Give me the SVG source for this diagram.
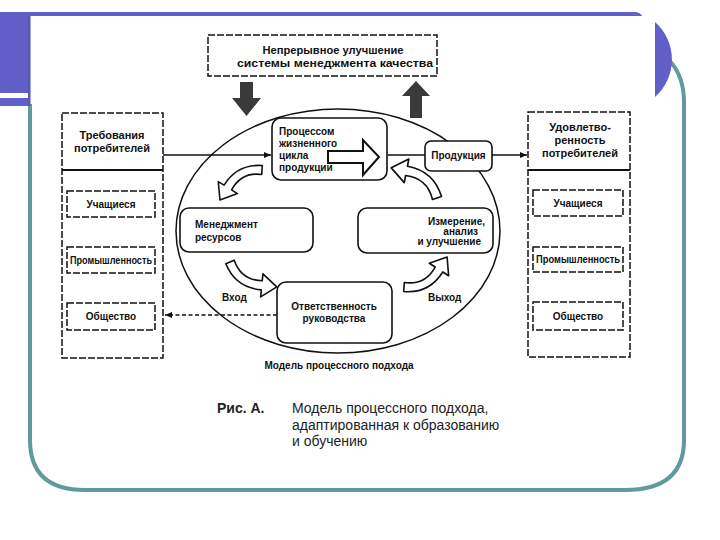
<svg xmlns="http://www.w3.org/2000/svg" width="720" height="540" viewBox="0 0 720 540">
<style>
text{font-family:"Liberation Sans",Arial,sans-serif;font-weight:bold;fill:#111}
.t10{font-size:10px}
.t11{font-size:11px}
.box{fill:#fff;stroke:#111;stroke-width:1.6}
.dbox{fill:#fff;stroke:#111;stroke-width:1.5;stroke-dasharray:7 2}
.line{stroke:#111;stroke-width:1.4;fill:none}
.carrow{fill:#fff;stroke:#111;stroke-width:1.4;stroke-linejoin:round}
.cap{font-family:"Liberation Sans",Arial,sans-serif;font-size:14px;font-weight:normal;fill:#222}
</style>
<defs>
<marker id="ah" markerWidth="8" markerHeight="8" refX="7" refY="4" orient="auto" markerUnits="userSpaceOnUse">
<path d="M0,1 L7,4 L0,7 Z" fill="#111"/>
</marker>
<path id="curved" d="M-2,3.4 Q17,15 36,3.4 L39.1,8.6 L45.2,-6.6 L28.9,-8.6 L32,-3.4 Q17,7 2,-3.4 Z"/>
</defs>

<!-- slide frame -->
<g id="frame">
<rect x="0" y="0" width="720" height="540" fill="#fff"/>
<path d="M30,104 V440 Q30,490 85,490 H625 Q684,490 684,440 V102 Q684,76 669,60" fill="none" stroke="#609a9a" stroke-width="4"/>
<rect x="0" y="12" width="28" height="81" fill="#6060c8"/>
<rect x="0" y="98" width="30" height="8" fill="#6060c8"/>
<rect x="28" y="12" width="2.5" height="94" fill="#5858b8"/>
<path d="M28,12 H636 Q641,13 642,16 H28 Z" fill="#6060c8"/>
<path d="M655,22 A50,50 0 0 1 655,97 Z" fill="#6060c8"/>
</g>

<!-- connectors -->
<g id="connectors">
<ellipse cx="338" cy="231" rx="162" ry="122" fill="none" stroke="#111" stroke-width="1.5"/>
<line class="line" x1="163" y1="155" x2="271" y2="155" marker-end="url(#ah)"/>
<line class="line" x1="388" y1="155" x2="425" y2="155"/>
<line class="line" x1="492" y1="155" x2="527" y2="155" marker-end="url(#ah)"/>
<line class="line" x1="277" y1="315" x2="165" y2="315" stroke-dasharray="4 2.5" marker-end="url(#ah)"/>
<!-- big dark arrows -->
<path d="M240,82 H253 V98 H261 L246.5,116 L232,98 H240 Z" fill="#3a3a3a"/>
<path d="M410,118 H422 V96 H430 L416,81 L402,96 H410 Z" fill="#3a3a3a"/>
</g>

<g id="top-box">
<rect class="dbox" x="208" y="35" width="229" height="41"/>
<text class="t11" x="333" y="54" text-anchor="middle" textLength="141" lengthAdjust="spacingAndGlyphs">Непрерывное улучшение</text>
<text class="t11" x="335" y="67" text-anchor="middle" textLength="196" lengthAdjust="spacingAndGlyphs">системы менеджмента качества</text>
</g>

<g id="left-column">
<rect class="dbox" x="62" y="113" width="101" height="245"/>
<line x1="62" y1="170" x2="163" y2="170" stroke="#111" stroke-width="2"/>
<text class="t11" x="112" y="139" text-anchor="middle">Требования</text>
<text class="t11" x="112" y="152" text-anchor="middle">потребителей</text>
</g>
<g id="left-students">
<rect class="dbox" x="67" y="191" width="88" height="26"/>
<text class="t10" x="111" y="208" text-anchor="middle">Учащиеся</text>
</g>
<g id="left-industry">
<rect class="dbox" x="67" y="247" width="88" height="26"/>
<text class="t10" x="111" y="264" text-anchor="middle" textLength="82" lengthAdjust="spacingAndGlyphs">Промышленность</text>
</g>
<g id="left-society">
<rect class="dbox" x="67" y="303" width="88" height="27"/>
<text class="t10" x="111" y="320" text-anchor="middle">Общество</text>
</g>

<g id="right-column">
<rect class="dbox" x="528" y="112" width="102" height="245"/>
<line x1="528" y1="170" x2="630" y2="170" stroke="#111" stroke-width="2"/>
<text class="t11" x="580" y="131" text-anchor="middle">Удовлетво-</text>
<text class="t11" x="580" y="144" text-anchor="middle">ренность</text>
<text class="t11" x="580" y="157" text-anchor="middle">потребителей</text>
</g>
<g id="right-students">
<rect class="dbox" x="533" y="190" width="90" height="26"/>
<text class="t10" x="578" y="207" text-anchor="middle">Учащиеся</text>
</g>
<g id="right-industry">
<rect class="dbox" x="533" y="247" width="90" height="25"/>
<text class="t10" x="578" y="263" text-anchor="middle" textLength="84" lengthAdjust="spacingAndGlyphs">Промышленность</text>
</g>
<g id="right-society">
<rect class="dbox" x="533" y="302" width="90" height="28"/>
<text class="t10" x="578" y="320" text-anchor="middle">Общество</text>
</g>

<g id="product-realization">
<rect class="box" x="272" y="118" width="115" height="62" rx="9"/>
<text class="t10" x="279" y="135">Процессом</text>
<text class="t10" x="279" y="147">жизненного</text>
<text class="t10" x="279" y="159">цикла</text>
<text class="t10" x="279" y="171">продукции</text>
<path d="M328,151 H363 V140 L379,157 L363,175 V163 H328 Z" fill="#fff" stroke="#111" stroke-width="2" stroke-linejoin="miter"/>
</g>

<g id="product">
<rect class="box" x="425" y="141" width="67" height="30" rx="6"/>
<text class="t10" x="458.5" y="159" text-anchor="middle">Продукция</text>
</g>

<g id="resource-management">
<rect class="box" x="180" y="208" width="133" height="44" rx="9"/>
<text class="t10" x="195" y="228">Менеджмент</text>
<text class="t10" x="195" y="241">ресурсов</text>
</g>

<g id="measurement">
<rect class="box" x="358" y="208" width="135" height="45" rx="9"/>
<text class="t10" x="485" y="225" text-anchor="end">Измерение,</text>
<text class="t10" x="478" y="235" text-anchor="end">анализ</text>
<text class="t10" x="481" y="245" text-anchor="end">и улучшение</text>
</g>

<g id="management-responsibility">
<rect class="box" x="277" y="282" width="115" height="61" rx="9"/>
<text class="t10" x="334" y="310" text-anchor="middle">Ответственность</text>
<text class="t10" x="334" y="322" text-anchor="middle">руководства</text>
</g>

<g id="cycle-arrows">
<use href="#curved" class="carrow" transform="translate(262,170) rotate(152.8) scale(1.13)"/>
<use href="#curved" class="carrow" transform="translate(230,262) rotate(36.3) scale(1.16)"/>
<use href="#curved" class="carrow" transform="translate(404,287) rotate(-26.6) scale(1.15)"/>
<use href="#curved" class="carrow" transform="translate(437,198) rotate(-138.3) scale(1.2)"/>
</g>

<g id="labels">
<text class="t10" x="222" y="301">Вход</text>
<text class="t10" x="428" y="301">Выход</text>
<text class="t10" x="339" y="369" text-anchor="middle">Модель процессного подхода</text>
<text class="cap" x="217" y="413" style="font-weight:bold">Рис. А.</text>
<text class="cap" x="292" y="413">Модель процессного подхода,</text>
<text class="cap" x="292" y="430">адаптированная к образованию</text>
<text class="cap" x="292" y="446">и обучению</text>
</g>
</svg>
